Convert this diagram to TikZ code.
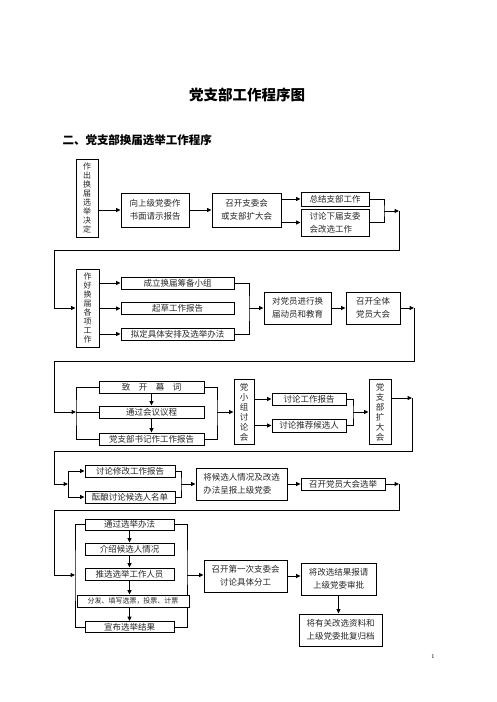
\documentclass[tikz,border=0pt]{standalone}
\usepackage{fontspec}
\newfontfamily\cjk{Noto Sans CJK SC}
\usetikzlibrary{arrows.meta}

\begin{document}
\begin{tikzpicture}[x=1pt,y=-1pt,line width=1pt,
  bx/.style={draw,inner sep=0pt,align=center,text=black!85,
             font=\cjk\fontsize{8.5}{13}\selectfont},
  lbx/.style={bx,align=left},
  vbx/.style={bx,font=\cjk\fontsize{8}{9}\selectfont},
  ar/.style={-{Triangle[length=4.5pt,width=4pt]}},
]
\useasboundingbox (0,0) rectangle (496,702);

\node[font=\cjk\bfseries\fontsize{14.5}{16}\selectfont] (title) at (247,95) {党支部工作程序图};
\node[anchor=west,inner sep=0pt,font=\cjk\bfseries\fontsize{11.5}{13}\selectfont] (sub) at (62,140) {二、党支部换届选举工作程序};
\node[font=\fontsize{6}{7}\selectfont] (pg) at (433,656) {1};

% row 1
\node[vbx,minimum width=22,minimum height=78] (v1) at (87,198) {作\\出\\换\\届\\选\\举\\决\\定};
\node[bx,minimum width=68,minimum height=34] (b11) at (155,210) {向上级党委作\\书面请示报告};
\node[bx,minimum width=69,minimum height=34] (b12) at (246.5,210) {召开支委会\\或支部扩大会};
\node[bx,minimum width=68,minimum height=14] (b13) at (335,199) {总结支部工作};
\node[lbx,minimum width=68,minimum height=27] (b14) at (335,222.5) {讨论下届支委\\会改选工作};

% row 2
\node[vbx,minimum width=23,minimum height=78] (v2) at (87.5,308) {作\\好\\换\\届\\各\\项\\工\\作};
\node[bx,minimum width=113,minimum height=12] (b21) at (177.5,283) {成立换届筹备小组};
\node[bx,minimum width=113,minimum height=12] (b22) at (177.5,308.5) {起草工作报告};
\node[bx,minimum width=113,minimum height=12] (b23) at (177.5,334) {拟定具体安排及选举办法};
\node[bx,minimum width=67,minimum height=32] (b24) at (297.5,308) {对党员进行换\\届动员和教育};
\node[bx,minimum width=54,minimum height=32] (b25) at (373,308) {召开全体\\党员大会};

% row 3
\node[bx,minimum width=105,minimum height=12] (b31) at (151.5,387) {致\quad 开\quad 幕\quad 词};
\node[bx,minimum width=105,minimum height=12] (b32) at (151.5,412) {通过会议议程};
\node[bx,minimum width=105,minimum height=12] (b33) at (151.5,439) {党支部书记作工作报告};
\node[vbx,font=\cjk\fontsize{8.5}{10}\selectfont,minimum width=20,minimum height=65] (v3) at (244,412) {党\\小\\组\\讨\\论\\会};
\node[bx,minimum width=74,minimum height=12] (b34) at (309,399) {讨论工作报告};
\node[bx,minimum width=74,minimum height=13] (b35) at (309,425.5) {讨论推荐候选人};
\node[vbx,font=\cjk\fontsize{8.5}{10}\selectfont,minimum width=22,minimum height=65] (v4) at (380,412) {党\\支\\部\\扩\\大\\会};

% row 4
\node[bx,minimum width=90,minimum height=12] (b41) at (130,471) {讨论修改工作报告};
\node[bx,minimum width=90,minimum height=12] (b42) at (130,497) {酝酿讨论候选人名单};
\node[lbx,minimum width=91,minimum height=32] (b43) at (241.5,484) {将候选人情况及改选\\办法呈报上级党委};
\node[bx,minimum width=84,minimum height=12] (b44) at (343,484) {召开党员大会选举};

% row 5
\node[bx,minimum width=89,minimum height=11] (b51) at (129.5,524.5) {通过选举办法};
\node[bx,minimum width=89,minimum height=12] (b52) at (129.5,549) {介绍候选人情况};
\node[bx,minimum width=89,minimum height=12] (b53) at (129.5,574) {推选选举工作人员};
\node[bx,font=\cjk\fontsize{7}{8}\selectfont,minimum width=112,minimum height=12] (b54) at (133,601) {分发、填写选票，投票、计票};
\node[bx,minimum width=89,minimum height=11] (b55) at (129.5,627) {宣布选举结果};
\node[bx,minimum width=83,minimum height=32] (b56) at (245.5,576) {召开第一次支委会\\讨论具体分工};
\node[bx,minimum width=75,minimum height=32] (b57) at (338.5,579) {将改选结果报请\\上级党委审批};
\node[lbx,minimum width=83,minimum height=32] (b58) at (340.5,630) {将有关改选资料和\\上级党委批复归档};

\coordinate (j1) at (384,211);
\coordinate (e1) at (399,211);
\coordinate (l1) at (54,250);
\coordinate (j2) at (249,308);
\coordinate (e2) at (414,308);
\coordinate (l2) at (54,361);
\coordinate (lb3) at (76,412);
\coordinate (rb3) at (217,412);
\coordinate (rc3) at (353,412);
\coordinate (e3) at (412,398);
\coordinate (l3) at (54,451);
\coordinate (lb4) at (68,484);
\coordinate (rb4) at (181,484);
\coordinate (e4) at (399,484);
\coordinate (l4) at (54,510);
\coordinate (lb5) at (75,575);
\coordinate (rb5) at (187,575);

\draw[ar] (v1.east |- b11.west) -- (b11.west);
\draw[ar] (b11) -- (b12);
\draw[ar] (b12.east |- b13.west) -- (b13.west);
\draw[ar] (b12.east |- b14.west) -- (b14.west);
\draw (b13.east) -| (j1) |- (b14.east);
\draw[ar] (j1) -- (e1);
\draw[ar] (e1) |- (l1) |- (v2.west);

\foreach \b in {b21,b22,b23}
  \draw[ar] (v2.east |- \b.west) -- (\b.west);
\draw (b21.east) -| (j2) |- (b23.east);
\draw[ar] (j2) -- (b24.west);
\draw[ar] (b24) -- (b25);
\draw[ar] (b25.east) -- (e2);
\draw[ar] (e2) |- (l2) |- (lb3);

\draw (b31.west) -| (lb3) |- (b33.west);
\draw (lb3) -- (b32.west);
\draw[ar] (b31) -- (b32);
\draw[ar] (b32) -- (b33);
\draw (b31.east) -| (rb3) |- (b33.east);
\draw[ar] (rb3) -- (v3.west);
\draw[ar] (v3.east |- b34.west) -- (b34.west);
\draw[ar] (v3.east |- b35.west) -- (b35.west);
\draw (b34.east) -| (rc3) |- (b35.east);
\draw[ar] (rc3) -- (v4.west);
\draw[ar] (v4.east |- e3) -- (e3);
\draw[ar] (e3) |- (l3) |- (lb4);

\draw[ar] (lb4) |- (b41.west);
\draw[ar] (lb4) |- (b42.west);
\draw (b41.east) -| (rb4) |- (b42.east);
\draw[ar] (rb4) -- (b43.west);
\draw[ar] (b43) -- (b44);
\draw[ar] (b44.east) -- (e4);
\draw[ar] (e4) |- (l4) |- (lb5);

\draw (b51.west) -| (lb5) |- (b55.west);
\draw (b51.east) -| (rb5) -- (rb5 |- b54.north);
\draw (rb5 |- b54.south) |- (b55.east);
\draw[ar] (b51) -- (b52);
\draw[ar] (b52) -- (b53);
\draw[ar] (b53.south) -- (b53.south |- b54.north);
\draw[ar] (b55.north |- b54.south) -- (b55.north);
\draw[ar] (rb5) -- (rb5 -| b56.west);
\draw[ar] (b56.east) -- (b56.east -| b57.west);
\draw[ar] (b57.south) -- (b57.south |- b58.north);
\end{tikzpicture}
\end{document}
